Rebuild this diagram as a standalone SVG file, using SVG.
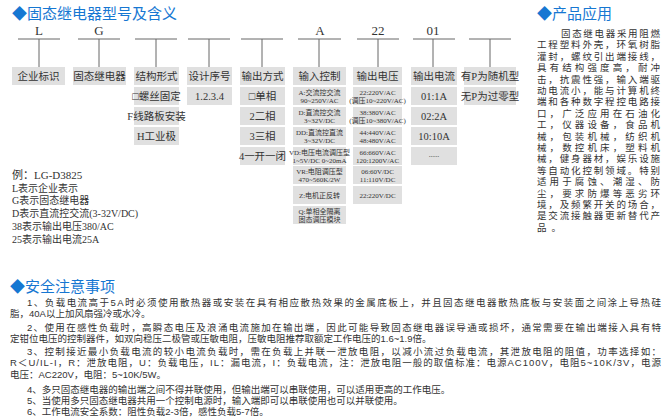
<svg xmlns="http://www.w3.org/2000/svg" width="662" height="420" viewBox="0 0 662 420">
<style>
.h{font-family:"Liberation Sans","Noto Sans CJK SC",sans-serif;font-size:15px;fill:#1677d2}
.b{fill:#e0e0e0}
.t{font-family:"Liberation Serif","Noto Sans CJK SC",serif;font-size:10.5px;fill:#333;text-anchor:middle}
.s{font-family:"Liberation Serif","Noto Sans CJK SC",serif;font-size:7px;fill:#333;text-anchor:middle}
.l{font-family:"Liberation Serif",serif;font-size:13px;fill:#333;text-anchor:middle}
.p{font-family:"Liberation Sans","Noto Sans CJK SC",sans-serif;font-size:9.5px;fill:#333}
.e{font-family:"Liberation Serif","Noto Sans CJK SC",serif;font-size:10px;fill:#333}
</style>
<rect width="662" height="420" fill="#fff"/>
<text class="h" x="12" y="19">◆固态继电器型号及含义</text>
<text class="h" x="537" y="19">◆产品应用</text>
<text class="h" x="10" y="292">◆安全注意事项</text>
<g id="connectors" stroke="#666" stroke-width="1" fill="none">
<path d="M18 39H60M39 39V67M78 39H120M99 39V67M135 39H177M156 39V67M188 39H230M209 39V67M241 39H283M262 39V67M298 39H341M319 39V67M357 39H399M378 39V67M413 39H455M433 39V67M469 39H511M490 39V67"/>
</g>
<g class="l"><text x="39" y="35">L</text><text x="99" y="35">G</text><text x="320" y="35">A</text><text x="378" y="35">22</text><text x="433" y="35">01</text></g>
<g id="c1"><rect class="b" x="12" y="67" width="53" height="18"/><text class="t" x="38.5" y="80">企业标识</text></g>
<g id="c2"><rect class="b" x="73" y="67" width="53" height="18"/><text class="t" x="99.5" y="80">固态继电器</text></g>
<g id="c3"><rect class="b" x="134" y="67" width="45" height="18"/><text class="t" x="156.5" y="80">结构形式</text>
<rect class="b" x="134" y="87" width="45" height="18"/><text class="t" x="156.5" y="100" font-size="8.5">□螺丝固定</text>
<rect class="b" x="134" y="107" width="45" height="18"/><text class="t" x="156.5" y="120" font-size="8">F线路板安装</text>
<rect class="b" x="134" y="127" width="45" height="18"/><text class="t" x="156.5" y="140">H工业极</text></g>
<g id="c4"><rect class="b" x="187" y="67" width="45" height="18"/><text class="t" x="209.5" y="80">设计序号</text>
<rect class="b" x="187" y="87" width="45" height="18"/><text class="t" x="209.5" y="100">1.2.3.4</text></g>
<g id="c5"><rect class="b" x="240" y="67" width="45" height="18"/><text class="t" x="262.5" y="80">输出方式</text>
<rect class="b" x="240" y="87" width="45" height="18"/><text class="t" x="262.5" y="100">□单相</text>
<rect class="b" x="240" y="107" width="45" height="18"/><text class="t" x="262.5" y="120">2二相</text>
<rect class="b" x="240" y="127" width="45" height="18"/><text class="t" x="262.5" y="140">3三相</text>
<rect class="b" x="240" y="147" width="45" height="18"/><text class="t" x="262.5" y="160" font-size="9">4一开一闭</text></g>
<g id="c6"><rect class="b" x="293" y="67" width="53" height="18"/><text class="t" x="319.5" y="80">输入控制</text>
<rect class="b" x="293" y="87" width="53" height="18"/><text class="s" x="319.5" y="95">A:交流控交流</text><text class="s" x="319.5" y="103">90~250V/AC</text>
<rect class="b" x="293" y="107" width="53" height="18"/><text class="s" x="319.5" y="115">D:直流控交流</text><text class="s" x="319.5" y="123">3~32V/DC</text>
<rect class="b" x="293" y="127" width="53" height="18"/><text class="s" x="319.5" y="135">DD:直流控直流</text><text class="s" x="319.5" y="143">3~32V/DC</text>
<rect class="b" x="293" y="147" width="53" height="18"/><text class="s" x="319.5" y="155" font-size="6">VD:电压电流调压型</text><text class="s" x="319.5" y="163" font-size="6">1~5V/DC 0~20mA</text>
<rect class="b" x="293" y="166" width="53" height="18"/><text class="s" x="319.5" y="174">VR:电阻调压型</text><text class="s" x="319.5" y="182">470~560K/2W</text>
<rect class="b" x="293" y="186" width="53" height="18"/><text class="s" x="319.5" y="198">Z:电机正反转</text>
<rect class="b" x="293" y="206" width="53" height="18"/><text class="s" x="319.5" y="214">Q:单相全隔离</text><text class="s" x="319.5" y="222">固态调压模块</text></g>
<g id="c7"><rect class="b" x="353" y="67" width="49" height="18"/><text class="t" x="377.5" y="80">输出电压</text>
<rect class="b" x="353" y="87" width="49" height="18"/><text class="s" x="377.5" y="95" font-size="6">22:220V/AC</text><text class="s" x="377.5" y="103" font-size="6">(调压10~220V/AC)</text>
<rect class="b" x="353" y="107" width="49" height="18"/><text class="s" x="377.5" y="115" font-size="6">38:380V/AC</text><text class="s" x="377.5" y="123" font-size="6">(调压10~380V/AC)</text>
<rect class="b" x="353" y="127" width="49" height="18"/><text class="s" x="377.5" y="135">44:440V/AC</text><text class="s" x="377.5" y="143">48:480V/AC</text>
<rect class="b" x="353" y="147" width="49" height="18"/><text class="s" x="377.5" y="155">66:660V/AC</text><text class="s" x="377.5" y="163">120:1200V/AC</text>
<rect class="b" x="353" y="166" width="49" height="18"/><text class="s" x="377.5" y="174">06:60V/DC</text><text class="s" x="377.5" y="182">11:110V/DC</text>
<rect class="b" x="353" y="186" width="49" height="18"/><text class="s" x="377.5" y="198">22:220V/DC</text></g>
<g id="c8"><rect class="b" x="411" y="67" width="46" height="18"/><text class="t" x="434" y="80">输出电流</text>
<rect class="b" x="411" y="87" width="46" height="18"/><text class="t" x="434" y="100">01:1A</text>
<rect class="b" x="411" y="107" width="46" height="18"/><text class="t" x="434" y="120">02:2A</text>
<rect class="b" x="411" y="127" width="46" height="18"/><text class="t" x="434" y="140">10:10A</text>
<rect class="b" x="411" y="147" width="46" height="18"/><text class="s" x="434" y="157">......</text></g>
<g id="c9"><rect class="b" x="464" y="67" width="52" height="18"/><text class="t" x="490" y="80" font-size="9.5">有P为随机型</text>
<rect class="b" x="464" y="87" width="52" height="18"/><text class="t" x="490" y="100" font-size="9.5">无P为过零型</text></g>
<g id="example" class="e">
<text x="12" y="179" font-size="11">例：LG-D3825</text>
<text x="12" y="192">L表示企业表示</text>
<text x="12" y="204">G表示固态继电器</text>
<text x="12" y="217">D表示直流控交流(3-32V/DC)</text>
<text x="12" y="230">38表示输出电压380/AC</text>
<text x="12" y="243">25表示输出电流25A</text>
</g>
<g id="app" class="p">
<text x="561" y="37" textLength="99">固态继电器采用阻燃</text>
<text x="537" y="48" textLength="123">工程塑料外壳，环氧树脂</text>
<text x="537" y="60" textLength="123">灌封，螺纹引出端接线，</text>
<text x="537" y="71" textLength="123">具有结构强度高，耐冲</text>
<text x="537" y="83" textLength="123">击，抗震性强，输入端驱</text>
<text x="537" y="94" textLength="123">动电流小，能与计算机终</text>
<text x="537" y="105" textLength="123">端和各种数字程控电路接</text>
<text x="537" y="117" textLength="123">口，广泛应用在石油化</text>
<text x="537" y="128" textLength="123">工，仪器设备，食品机</text>
<text x="537" y="140" textLength="123">械，包装机械，纺织机</text>
<text x="537" y="151" textLength="123">械，数控机床，塑料机</text>
<text x="537" y="162" textLength="123">械，健身器材，娱乐设施</text>
<text x="537" y="174" textLength="123">等自动化控制领域。特别</text>
<text x="537" y="185" textLength="123">适用于腐蚀、潮湿、防</text>
<text x="537" y="197" textLength="123">尘，要求防爆等恶劣环</text>
<text x="537" y="208" textLength="123">境，及频繁开关的场合，</text>
<text x="537" y="219" textLength="123">是交流接触器更新替代产</text>
<text x="537" y="231" textLength="24">品。</text>
</g>
<g id="safety" class="p">
<text x="27" y="306" textLength="634">1、负载电流高于5A时必须使用散热器或安装在具有相应散热效果的金属底板上，并且固态继电器散热底板与安装面之间涂上导热硅</text>
<text x="10" y="317">脂，40A以上加风扇强冷或水冷。</text>
<text x="27" y="331" textLength="634">2、使用在感性负载时，高瞬态电压及浪涌电流施加在输出端，因此可能导致固态继电器误导通或损坏，通常需要在输出端接入具有特</text>
<text x="10" y="342">定钳位电压的控制器件，如双向稳压二极管或压敏电阻，压敏电阻推荐取额定工作电压的1.6~1.9倍。</text>
<text x="27" y="355" textLength="634">3、控制接近最小负载电流的较小电流负载时，需在负载上并联一泄放电阻，以减小流过负载电流，其泄放电阻的阻值，功率选择如：</text>
<text x="10" y="366" textLength="651">R＜U/IL-I，R：泄放电阻，U：负载电压，IL：漏电流，I：负载电流，注：泄放电阻一般的取值标准：电源AC100V，电阻5~10K/3V，电源</text>
<text x="10" y="378">电压：AC220V，电阻：5~10K/5W。</text>
<text x="27" y="393">4、多只固态继电器的输出端之间不得并联使用，但输出端可以串联使用，可以适用更高的工作电压。</text>
<text x="27" y="404">5、当使用多只固态继电器共用一个控制电源时，输入端即可以串联使用也可以并联使用。</text>
<text x="27" y="415">6、工作电流安全系数：阻性负载2-3倍，感性负载5-7倍。</text>
</g>
</svg>
